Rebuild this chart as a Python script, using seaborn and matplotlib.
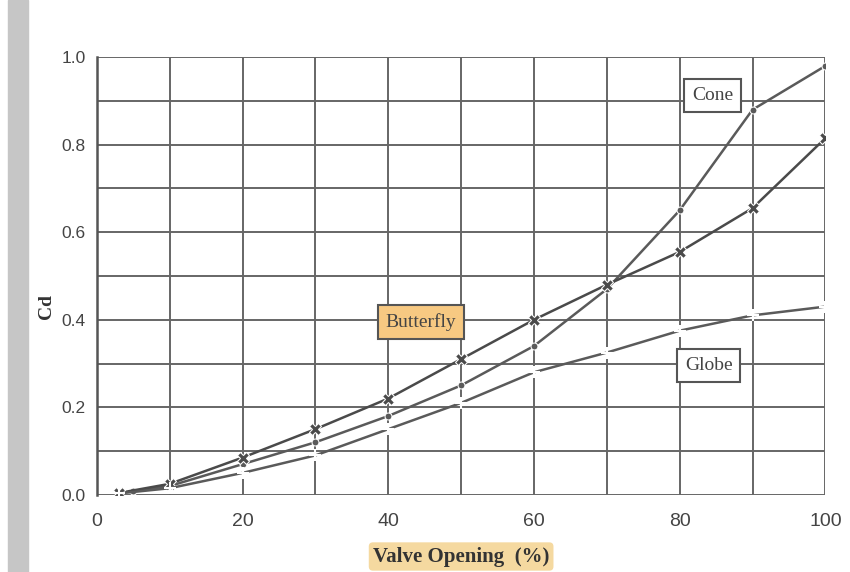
import numpy as np
import matplotlib
matplotlib.use('Agg')
import matplotlib.pyplot as plt
import seaborn as sns
from matplotlib.patches import Rectangle

# valores
cone_x = [5, 10, 20, 30, 40, 50, 60, 70, 80, 90, 100]
cone_y = [0.008, 0.02, 0.07, 0.12, 0.18, 0.25, 0.34, 0.47, 0.65, 0.88, 0.98]
butterfly_x = [3, 10, 20, 30, 40, 50, 60, 70, 80, 90, 100]
butterfly_y = [0.004, 0.025, 0.085, 0.15, 0.22, 0.31, 0.40, 0.48, 0.555, 0.655, 0.815]
globe_x = [3, 10, 20, 30, 40, 50, 60, 70, 80, 90, 100]
globe_y = [0.003, 0.015, 0.05, 0.09, 0.15, 0.21, 0.28, 0.325, 0.375, 0.41, 0.43]

x_ticks = [0, 20, 40, 60, 80, 100]
y_ticks = [0.0, 0.2, 0.4, 0.6, 0.8, 1.0]

sns.set_style('white')
plt.rcParams['font.family'] = ['Liberation Sans', 'DejaVu Sans']

fig = plt.figure(figsize=(8.5, 5.72), dpi=100)
fig.patch.set_facecolor('white')
# franja gris del escaneo
fig.patches.append(Rectangle((0.009, 0), 0.024, 1, transform=fig.transFigure,
                             color='#c6c6c6', zorder=0))
ax = fig.add_axes([0.114, 0.135, 0.857, 0.765])

line_col = '#5a5a5a'
sns.lineplot(x=cone_x, y=cone_y, color=line_col, marker='o', markersize=5,
             linewidth=1.8, ax=ax)
sns.lineplot(x=butterfly_x, y=butterfly_y, color='#4a4a4a', marker='X', markersize=9,
             linewidth=1.8, ax=ax)
sns.lineplot(x=globe_x, y=globe_y, color=line_col, marker='+', markersize=8,
             markeredgewidth=1.5, linewidth=1.8, ax=ax)

ax.set_xlim(0, 100)
ax.set_ylim(0, 1.0)
ax.set_xticks(x_ticks)
ax.set_xticks(np.arange(0, 101, 10), minor=True)
ax.set_yticks(y_ticks)
ax.set_yticks(np.arange(0, 1.01, 0.1), minor=True)
ax.set_xticklabels([str(t) for t in x_ticks])
ax.set_yticklabels([f'{t:.1f}' for t in y_ticks])
ax.grid(True, which='both', color='#666666', linewidth=1.4)
for s in ax.spines.values():
    s.set_visible(False)
ax.spines['left'].set_visible(True)
ax.spines['left'].set_color('#555555')
ax.spines['left'].set_linewidth(1.8)
ax.tick_params(axis='y', which='both', direction='inout', length=8, width=1.2,
               color='#555555', labelsize=12.5, labelcolor='#444444', pad=4)
ax.tick_params(axis='x', which='both', direction='inout', length=6, width=1.2,
               color='#555555', labelsize=14, labelcolor='#444444', pad=10)

ax.set_xlabel('Valve Opening  (%)', fontfamily='Liberation Serif', fontweight='bold',
              fontsize=15, color='#333333', labelpad=12,
              bbox=dict(facecolor='#f5d9a0', edgecolor='none', boxstyle='round,pad=0.2'))
ax.set_ylabel('Cd', fontfamily='Liberation Serif', fontweight='bold',
              fontsize=14, color='#333333')
ax.yaxis.set_label_coords(-0.058, 0.43)

box = dict(facecolor='white', edgecolor='#555555', linewidth=1.5, boxstyle='square,pad=0.4')
ax.text(84.5, 0.913, 'Cone', fontfamily='Liberation Serif', fontsize=14,
        color='#444444', ha='center', va='center', bbox=box)
ax.text(84, 0.295, 'Globe', fontfamily='Liberation Serif', fontsize=14,
        color='#444444', ha='center', va='center', bbox=box)
ax.text(44.5, 0.395, 'Butterfly', fontfamily='Liberation Serif', fontsize=14,
        color='#444444', ha='center', va='center',
        bbox=dict(facecolor='#f7c982', edgecolor='#555555', linewidth=1.5,
                  boxstyle='square,pad=0.4'))

fig.savefig('out.png', dpi=100)
